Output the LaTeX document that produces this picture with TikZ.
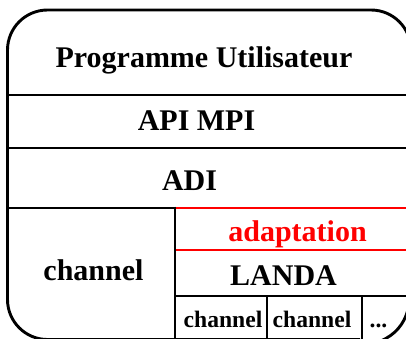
\documentclass[tikz,border=0pt]{standalone}
\usepackage{fontspec}
\setmainfont{Liberation Serif}
\usetikzlibrary{positioning}

\begin{document}
\begin{tikzpicture}[x=0.5pt,y=-0.5pt,line width=1.45pt,
    layer/.style={anchor=base,inner sep=0pt,font=\fontsize{15}{18}\selectfont\bfseries},
    sublayer/.style={layer,font=\fontsize{11.8}{14}\selectfont\bfseries}]
  \useasboundingbox (0,0) rectangle (406,338);
  % outer frame (cut at the right and bottom)
  \draw[rounded corners=20pt] (411,285) -- (411,10) -- (7.5,10) -- (7.5,339.5) -- (360,339.5);
  \draw (411,285) .. controls (411,322) and (396,343) .. (355,347);
  % layer separators
  \draw (7.5,95)--(411,95) (7.5,148)--(411,148) (7.5,208)--(175,208);
  \draw[red] (175,208)--(411,208) (175,250)--(411,250);
  \draw (175,296)--(411,296);
  \draw (175,206.5)--(175,342) (267,296)--(267,342) (362,296)--(362,342);
  % labels
  \node[layer] (prog) at (204,67) {Programme Utilisateur};
  \node[layer] (api) at (196.5,130) {API MPI};
  \node[layer] (adi) at (189.5,190) {ADI};
  \node[layer] (chan) at (93.5,280) {channel};
  \node[layer,red] (adapt) at (297.5,241) {adaptation};
  \node[layer] (landa) at (283.5,285) {LANDA};
  \node[sublayer] (chanA) at (223,327) {channel};
  \node[sublayer] (chanB) at (312,327) {channel};
  \node[sublayer] (more) at (378.5,327) {...};
\end{tikzpicture}
\end{document}
